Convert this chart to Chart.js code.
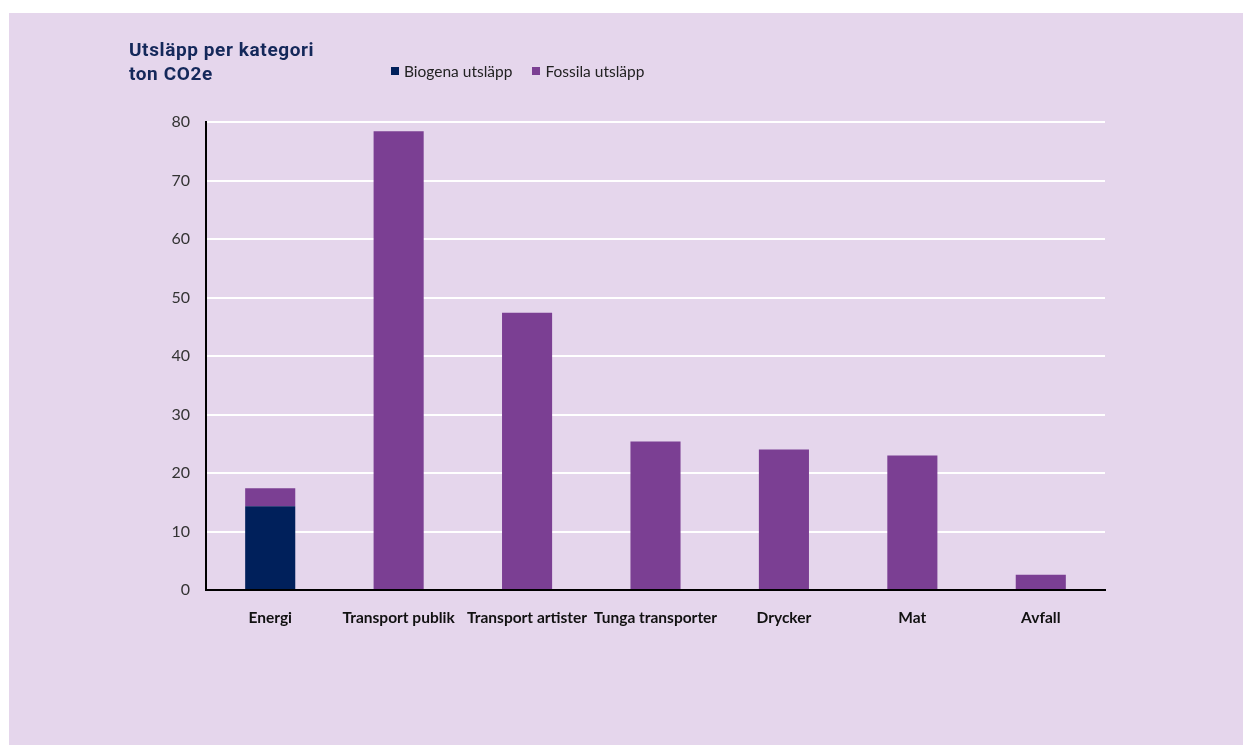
<!DOCTYPE html>
<html>
<head>
<meta charset="utf-8">
<script src="https://cdn.jsdelivr.net/npm/chart.js@4"></script>
<style>
  html, body { margin: 0; padding: 0; background: #fff; }
  body { width: 1243px; height: 745px; position: relative; overflow: hidden; }
  #panel { position: absolute; left: 9px; top: 13px; width: 1234px; height: 732px; background: #e5d6ec; }
  #title { position: absolute; left: 120px; top: 25px; font-family: Roboto, sans-serif; font-weight: 700;
           font-size: 19px; line-height: 24px; letter-spacing: 0.6px; color: #14285a; }
  #legend { position: absolute; left: 382px; top: 49px; font-family: Lato, sans-serif; font-size: 15.5px; color: #222; display: flex; }
  #legend span.item { display: flex; align-items: center; margin-right: 20px; }
  #legend span.box { width: 8px; height: 8px; margin-right: 5px; display: inline-block; }
  #wrap { position: absolute; left: 0; top: 0; width: 1234px; height: 732px; }
</style>
</head>
<body>
<div id="panel">
  <div id="wrap"><canvas id="chart"></canvas></div>
  <div id="title">Utsläpp per kategori<br>ton CO2e</div>
  <div id="legend"></div>
</div>
<script>
const categories = ['Energi', 'Transport publik', 'Transport artister', 'Tunga transporter', 'Drycker', 'Mat', 'Avfall'];
const biogena = [14.3, 0, 0, 0, 0, 0, 0];
const fossila = [3.1, 78.4, 47.4, 25.4, 24.0, 23.0, 2.6];
const yTicks = [0, 10, 20, 30, 40, 50, 60, 70, 80];

const datasets = [
    { label: 'Biogena utsläpp', data: biogena, backgroundColor: '#00205b' },
    { label: 'Fossila utsläpp', data: fossila, backgroundColor: '#7b3f93' }
];

// HTML legend built from the datasets
const legendEl = document.getElementById('legend');
datasets.forEach(ds => {
    const item = document.createElement('span');
    item.className = 'item';
    item.innerHTML = '<span class="box" style="background:' + ds.backgroundColor + '"></span>' + ds.label;
    legendEl.appendChild(item);
});

const ctx = document.getElementById('chart').getContext('2d');
new Chart(ctx, {
    type: 'bar',
    data: {
        labels: categories,
        datasets: datasets.map(ds => Object.assign({}, ds, { categoryPercentage: 1, barPercentage: 0.39 }))
    },
    options: {
        responsive: true,
        maintainAspectRatio: false,
        animation: false,
        layout: { padding: { left: 147, right: 138, top: 109, bottom: 115 } },
        plugins: {
            legend: { display: false },
            tooltip: { enabled: false }
        },
        scales: {
            x: {
                stacked: true,
                grid: { display: false },
                border: { display: true, color: '#000', width: 2 },
                ticks: {
                    color: '#111', font: { family: 'Lato', size: 15.5, weight: 'bold' }, padding: 11,
                    minRotation: 0, maxRotation: 0, autoSkip: false
                },
                afterFit: s => { s.height = 40; }
            },
            y: {
                stacked: true,
                min: 0,
                max: 80,
                afterBuildTicks: s => { s.ticks = yTicks.map(v => ({ value: v })); },
                grid: {
                    color: c => c.tick && c.tick.value === 0 ? 'rgba(0,0,0,0)' : '#ffffff',
                    lineWidth: 2,
                    drawTicks: false
                },
                border: { display: true, color: '#000', width: 2 },
                ticks: { color: '#333', font: { family: 'Lato', size: 16 }, padding: 16 },
                afterFit: s => { s.width = 50; }
            }
        }
    }
});
</script>
</body>
</html>
